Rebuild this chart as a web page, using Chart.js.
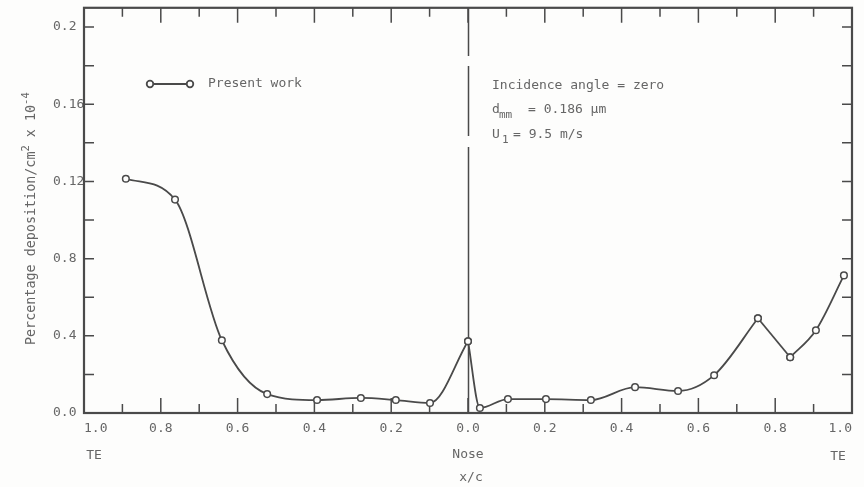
<!DOCTYPE html>
<html>
<head>
<meta charset="utf-8">
<script src="https://cdn.jsdelivr.net/npm/chart.js@4.4.1/dist/chart.umd.min.js"></script>
<style>
  body { margin: 0; background: #fdfdfc; }
  canvas { display: block; }
</style>
</head>
<body>
<canvas id="chart" width="864" height="487"></canvas>
<script>
// x/c along the chord: negative = left surface (drawn 1.0 -> 0.0), positive = right surface
const xPositions = [-0.891, -0.763, -0.641, -0.523, -0.393, -0.279, -0.188, -0.099, 0.0, 0.031,
                    0.104, 0.203, 0.320, 0.435, 0.547, 0.641, 0.755, 0.839, 0.906, 0.979];
const deposition = [0.1214, 0.1106, 0.0377, 0.0098, 0.0067, 0.0078, 0.0067, 0.0052, 0.0372, 0.0026,
                    0.0072, 0.0072, 0.0067, 0.0134, 0.0114, 0.0196, 0.0491, 0.0289, 0.0429, 0.0713];
// the hand-drawn curve has sharp corners at these point indices
const cornerPoints = [8, 16, 17];

const xTickLabels = ['1.0', '0.8', '0.6', '0.4', '0.2', '0.0', '0.2', '0.4', '0.6', '0.8', '1.0'];
const yTickLabels = ['0.0', '0.4', '0.8', '0.12', '0.16', '0.2'];
const seriesName = 'Present work';
const noteLines = ['Incidence angle = zero', '0.186 \u00b5m', '9.5 m/s'];

const INK = '#4a4a4a';
const TEXT = '#666666';
const BG = '#fdfdfc';
const FONT = "'DejaVu Sans Mono', monospace";

const points = xPositions.map((v, i) => ({ x: v, y: deposition[i] }));
const cuts = [0, ...cornerPoints, points.length - 1];
const datasets = [];
for (let k = 0; k < cuts.length - 1; k++) {
  datasets.push({
    label: seriesName,
    data: points.slice(cuts[k], cuts[k + 1] + 1),
    borderColor: INK,
    borderWidth: 1.8,
    cubicInterpolationMode: 'monotone',
    pointRadius: 3.3,
    pointBorderWidth: 1.5,
    pointBackgroundColor: BG,
    pointBorderColor: INK,
    fill: false
  });
}

const framePlugin = {
  id: 'frame',
  beforeDatasetsDraw(chart) {
    const { ctx, chartArea: a, scales: { x, y } } = chart;
    ctx.save();
    ctx.strokeStyle = INK;
    ctx.lineWidth = 1.5;

    // vertical line at the nose, with a couple of breaks like the original
    const x0 = Math.round(x.getPixelForValue(0)) + 0.5;
    ctx.beginPath();
    ctx.moveTo(x0, a.top); ctx.lineTo(x0, 56);
    ctx.moveTo(x0, 66); ctx.lineTo(x0, 136);
    ctx.moveTo(x0, 147); ctx.lineTo(x0, a.bottom);
    ctx.stroke();

    // inward ticks
    ctx.beginPath();
    x.ticks.forEach((t, i) => {
      const px = x.getPixelForValue(t.value);
      const len = i % 2 === 0 ? 15 : 9;
      ctx.moveTo(px, a.bottom); ctx.lineTo(px, a.bottom - len);
      ctx.moveTo(px, a.top); ctx.lineTo(px, a.top + len);
    });
    y.ticks.forEach(t => {
      const py = y.getPixelForValue(t.value);
      ctx.moveTo(a.left, py); ctx.lineTo(a.left + 10, py);
      ctx.moveTo(a.right, py); ctx.lineTo(a.right - 10, py);
    });
    ctx.stroke();

    ctx.lineWidth = 2.2;
    ctx.strokeRect(a.left, a.top, a.right - a.left, a.bottom - a.top);
    ctx.restore();
  },
  afterDraw(chart) {
    const { ctx, scales: { x } } = chart;
    ctx.save();
    ctx.fillStyle = TEXT;
    ctx.textBaseline = 'middle';
    ctx.font = '13px ' + FONT;

    // legend
    ctx.strokeStyle = INK;
    ctx.lineWidth = 1.8;
    ctx.beginPath(); ctx.moveTo(150, 84); ctx.lineTo(190, 84); ctx.stroke();
    [150, 190].forEach(cx => {
      ctx.beginPath(); ctx.arc(cx, 84, 3.3, 0, Math.PI * 2);
      ctx.fillStyle = BG; ctx.fill(); ctx.stroke();
    });
    ctx.fillStyle = TEXT;
    ctx.textAlign = 'left';
    ctx.fillText(seriesName, 208, 84);

    // notes
    ctx.fillText(noteLines[0], 492, 86);
    ctx.fillText('d', 492, 110);
    ctx.font = '11px ' + FONT;
    ctx.fillText('mm', 499, 115);
    ctx.font = '13px ' + FONT;
    ctx.fillText('= ' + noteLines[1], 528, 110);
    ctx.fillText('U', 492, 135);
    ctx.font = '11px ' + FONT;
    ctx.fillText('1', 502, 140);
    ctx.font = '13px ' + FONT;
    ctx.fillText('= ' + noteLines[2], 513, 135);

    // axis captions
    ctx.textAlign = 'center';
    ctx.fillText('TE', 94, 456);
    ctx.fillText('TE', 838, 457);
    ctx.fillText('Nose', x.getPixelForValue(0), 455);
    ctx.fillText('x/c', 471, 478);

    // y title with superscripts
    ctx.translate(32, 345);
    ctx.rotate(-Math.PI / 2);
    ctx.textAlign = 'left';
    const parts = [['Percentage deposition/cm', 13.4, 0], ['2', 10.5, -6], [' x 10', 13.4, 0], ['-4', 10.5, -6]];
    let cx = 0;
    parts.forEach(([s, size, dy]) => {
      ctx.font = size + 'px ' + FONT;
      ctx.fillText(s, cx, dy);
      cx += ctx.measureText(s).width;
    });
    ctx.restore();
  }
};

new Chart(document.getElementById('chart'), {
  type: 'line',
  data: { datasets },
  options: {
    responsive: false,
    animation: false,
    layout: { padding: { top: 6, right: 12, left: 53, bottom: 0 } },
    plugins: { legend: { display: false }, tooltip: { enabled: false } },
    scales: {
      x: {
        type: 'linear', min: -1, max: 1,
        afterBuildTicks: s => { s.ticks = Array.from({ length: 21 }, (_, i) => ({ value: -1 + i * 0.1 })); },
        afterFit: s => { s.height = 74; },
        grid: { display: false, drawTicks: false },
        border: { display: false },
        ticks: {
          autoSkip: false, maxRotation: 0, padding: 8, align: 'inner',
          color: TEXT, font: { family: FONT, size: 13 },
          callback: (v, i) => (i % 2 === 0 ? xTickLabels[i / 2] : '')
        }
      },
      y: {
        min: 0, max: 0.21,
        afterBuildTicks: s => { s.ticks = Array.from({ length: 11 }, (_, i) => ({ value: i * 0.02 })); },
        afterFit: s => { s.width = 31; },
        grid: { display: false, drawTicks: false },
        border: { display: false },
        ticks: {
          autoSkip: false, padding: 0, crossAlign: 'far',
          color: TEXT, font: { family: FONT, size: 13 },
          callback: (v, i) => (i % 2 === 0 ? yTickLabels[i / 2] : '')
        }
      }
    }
  },
  plugins: [framePlugin]
});
</script>
</body>
</html>
